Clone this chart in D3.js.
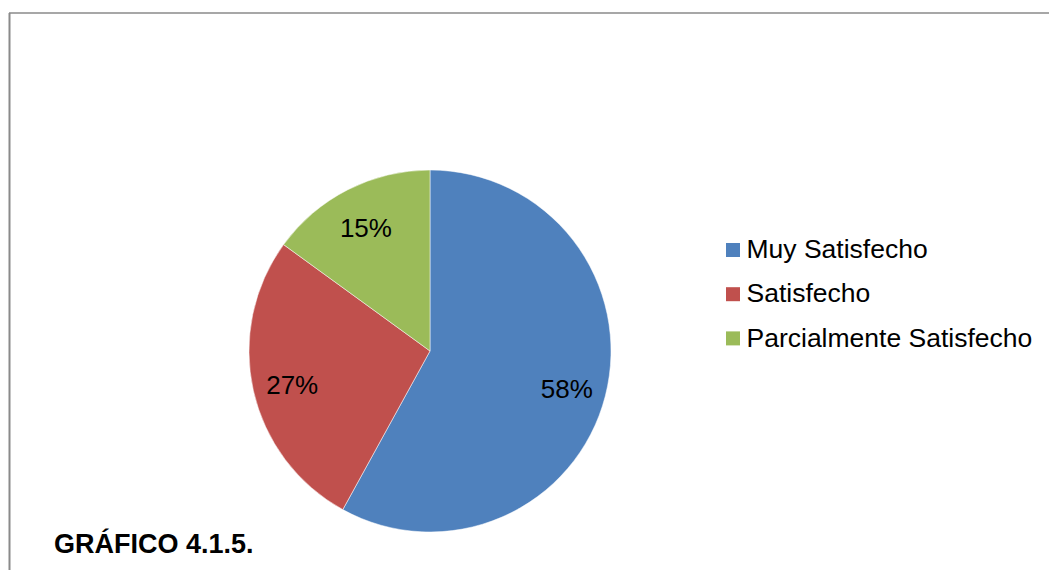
<!DOCTYPE html>
<html>
<head>
<meta charset="utf-8">
<script src="https://cdn.jsdelivr.net/npm/d3@7/dist/d3.min.js"></script>
<style>
  html, body { margin: 0; padding: 0; background: #ffffff; }
  svg { display: block; }
  text { font-family: "Liberation Sans", Arial, sans-serif; }
</style>
</head>
<body>
<svg id="chart" width="1049" height="570"></svg>
<script>
// Satisfaction survey results
const categories = ["Muy Satisfecho", "Satisfecho", "Parcialmente Satisfecho"];
const values = [58, 27, 15];
const colors = ["#4F81BD", "#C0504D", "#9BBB59"];
const title = "GRÁFICO 4.1.5.";

const svg = d3.select("#chart");

// Chart frame (top and left edges)
svg.append("line")
  .attr("x1", 9).attr("y1", 13).attr("x2", 1049).attr("y2", 13)
  .attr("stroke", "#8a8a8a").attr("stroke-width", 1.5);
svg.append("line")
  .attr("x1", 9.5).attr("y1", 13).attr("x2", 9.5).attr("y2", 570)
  .attr("stroke", "#8a8a8a").attr("stroke-width", 2);

// Pie
const cx = 430, cy = 351, radius = 181;
const data = categories.map((c, i) => ({ name: c, value: values[i], color: colors[i] }));

const pie = d3.pie().value(d => d.value).sort(null);
const arcs = pie(data);
const arc = d3.arc().innerRadius(0).outerRadius(radius);
const labelArc = d3.arc().innerRadius(radius * 0.78).outerRadius(radius * 0.78);

const g = svg.append("g").attr("transform", `translate(${cx},${cy})`);

g.selectAll("path.slice")
  .data(arcs)
  .enter().append("path")
  .attr("class", "slice")
  .attr("d", arc)
  .attr("fill", d => d.data.color)
  .attr("stroke", "#ffffff")
  .attr("stroke-width", 0.5);

const total = d3.sum(values);
g.selectAll("text.pct")
  .data(arcs)
  .enter().append("text")
  .attr("class", "pct")
  .attr("transform", d => `translate(${labelArc.centroid(d)})`)
  .attr("text-anchor", "middle")
  .attr("dy", "0.45em")
  .attr("font-size", "26px")
  .attr("fill", "#000000")
  .text(d => Math.round(d.data.value / total * 100) + "%");

// Legend
const legend = svg.append("g").attr("transform", "translate(726,243)");
const rowH = 44.2;
const rows = legend.selectAll("g.item")
  .data(data)
  .enter().append("g")
  .attr("class", "item")
  .attr("transform", (d, i) => `translate(0,${i * rowH})`);
rows.append("rect")
  .attr("x", 0).attr("y", 0).attr("width", 14).attr("height", 14)
  .attr("fill", d => d.color);
rows.append("text")
  .attr("x", 20.5).attr("y", 15.2)
  .attr("font-size", "26.5px")
  .attr("fill", "#000000")
  .text(d => d.name);

// Title
svg.append("text")
  .attr("x", 54).attr("y", 553)
  .attr("font-size", "27px")
  .attr("font-weight", "bold")
  .attr("fill", "#000000")
  .text(title);
</script>
</body>
</html>
